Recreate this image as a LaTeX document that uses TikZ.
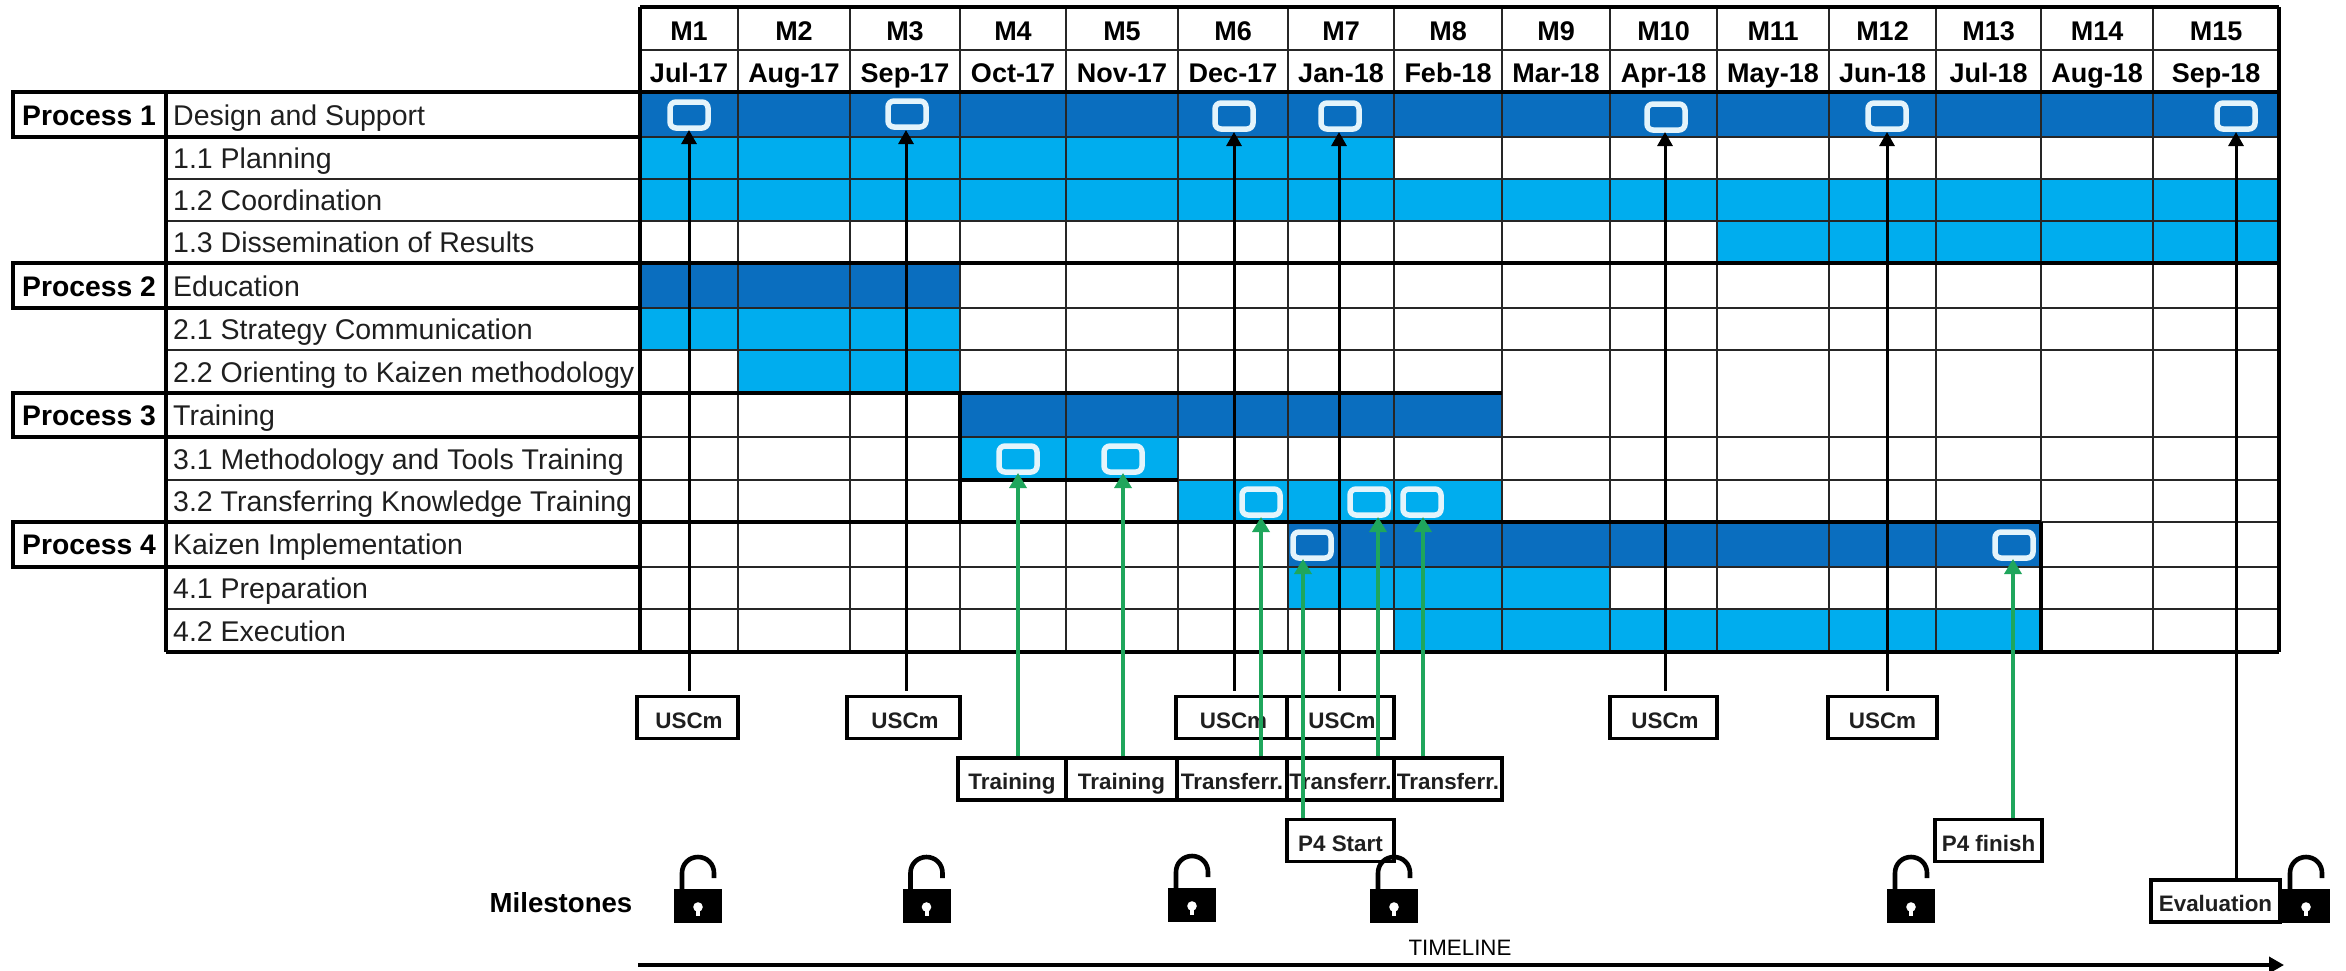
\documentclass[tikz,border=0pt]{standalone}
\usepackage{fontspec}
\setmainfont{Liberation Sans}
\usetikzlibrary{arrows.meta}
\definecolor{bardark}{HTML}{0A6EBF}
\definecolor{barlight}{HTML}{00ADEE}
\definecolor{iconedge}{HTML}{E4F4FB}
\definecolor{greenarrow}{HTML}{1FA65C}
\definecolor{gridc}{HTML}{262626}
\tikzset{
  thingrid/.style={draw=gridc,line width=1.5pt},
  thickgrid/.style={draw=black,line width=3.4pt},
  lbl/.style={anchor=base west,inner sep=0pt,font=\fontsize{28.5}{30}\selectfont,text=black!88},
  proc/.style={anchor=base,inner sep=0pt,font=\bfseries\fontsize{28.3}{30}\selectfont},
  hdr/.style={anchor=base,inner sep=0pt,font=\bfseries\fontsize{27}{30}\selectfont},
  msbox/.style={draw=black,fill=white,line width=3.2pt,inner sep=0pt,minimum height=42pt,text height=21pt,text depth=0pt,font=\bfseries\fontsize{22.4}{24}\selectfont,text=black!88},
  mon/.style={draw=iconedge,line width=5.5pt,rounded corners=6pt,minimum width=38pt,minimum height=26pt,inner sep=0pt},
  blackarrow/.style={draw=black,line width=3pt,-{Triangle[length=14pt,width=15pt]}},
  grnarrow/.style={draw=greenarrow,line width=3.4pt,-{Triangle[length=15pt,width=17pt]}},
  padlock/.pic={
    \fill[black] (-24,0) rectangle (24,34);
    \draw[black,line width=4.6pt] (-16,1) -- (-16,-16) .. controls (-16,-25) and (-9,-32) .. (0,-32) .. controls (9,-32) and (16,-25) .. (16,-16) -- (16,-11);
    \fill[white] (0,18) circle (4.8pt);
    \fill[white] (-2,18) rectangle (2,27);
  }
}
\begin{document}
\begin{tikzpicture}[x=1pt,y=-1pt]
\useasboundingbox (0,0) rectangle (2346,970);
\fill[white] (0,0) rectangle (2346,970);
% bars
\fill[bardark] (640,92) rectangle (2279,137);
\fill[barlight] (640,137) rectangle (1394,179);
\fill[barlight] (640,179) rectangle (2279,221);
\fill[barlight] (1717,221) rectangle (2279,263);
\fill[bardark] (640,263) rectangle (960,308);
\fill[barlight] (640,308) rectangle (960,350);
\fill[barlight] (738,350) rectangle (960,393);
\fill[bardark] (960,393) rectangle (1502,437);
\fill[barlight] (960,437) rectangle (1178,480);
\fill[barlight] (1178,480) rectangle (1502,522);
\fill[bardark] (1288,522) rectangle (2041,567);
\fill[barlight] (1288,567) rectangle (1610,609);
\fill[barlight] (1394,609) rectangle (2041,652);
% thin grid
\foreach \y in {179,221,308,350,437,480,567,609}
  \draw[thingrid] (166,\y) -- (2279,\y);
\draw[thingrid] (640,50) -- (2279,50);
\foreach \x in {738,850,960,1066,1178,1288,1394,1502,1610,1717,1829,1936,2041,2153}
  \draw[thingrid] (\x,7) -- (\x,652);
\foreach \y in {137,522}
  \draw[thingrid] (640,\y) -- (2279,\y);
% thick rules
\draw[thickgrid] (640,7) -- (2279,7);
\draw[thickgrid] (640,7) -- (640,652);
\draw[thickgrid] (2279,7) -- (2279,652);
\draw[thickgrid] (166,652) -- (2279,652);
\draw[thickgrid] (166,92) -- (166,652);
\foreach \ya/\yb in {92/137,263/308,393/437,522/567}
  \draw[thickgrid] (13,\ya) rectangle (640,\yb);
\draw[thickgrid] (640,92) -- (2279,92);
\draw[thickgrid] (640,263) -- (2279,263);
\draw[thickgrid] (640,393) -- (1502,393);
\draw[thickgrid] (640,522) -- (2041,522);
\draw[thickgrid] (960,393) -- (960,522);
\draw[thickgrid] (960,480) -- (1178,480);
\draw[thickgrid] (2041,522) -- (2041,652);
% header
\foreach \a/\b/\m/\d/\n in {640/738/M1/Jul-17/1,738/850/M2/Aug-17/2,850/960/M3/Sep-17/3,960/1066/M4/Oct-17/4,1066/1178/M5/Nov-17/5,1178/1288/M6/Dec-17/6,1288/1394/M7/Jan-18/7,1394/1502/M8/Feb-18/8,1502/1610/M9/Mar-18/9,1610/1717/M10/Apr-18/10,1717/1829/M11/May-18/11,1829/1936/M12/Jun-18/12,1936/2041/M13/Jul-18/13,2041/2153/M14/Aug-18/14,2153/2279/M15/Sep-18/15}{
  \node[hdr] (mon\n) at ({(\a+\b)/2},40) {\m};
  \node[hdr] (date\n) at ({(\a+\b)/2},82) {\d};
}
% process labels
\node[proc] (p1) at (89,125) {Process 1};
\node[proc] (p2) at (89,296) {Process 2};
\node[proc] (p3) at (89,425) {Process 3};
\node[proc] (p4) at (89,554) {Process 4};
% task labels
\node[lbl] (t10) at (173,125) {Design and Support};
\node[lbl] (t11) at (173,168) {1.1 Planning};
\node[lbl] (t12) at (173,210) {1.2 Coordination};
\node[lbl] (t13) at (173,252) {1.3 Dissemination of Results};
\node[lbl] (t20) at (173,296) {Education};
\node[lbl] (t21) at (173,339) {2.1 Strategy Communication};
\node[lbl] (t22) at (173,382) {2.2 Orienting to Kaizen methodology};
\node[lbl] (t30) at (173,425) {Training};
\node[lbl] (t31) at (173,469) {3.1 Methodology and Tools Training};
\node[lbl] (t32) at (173,511) {3.2 Transferring Knowledge Training};
\node[lbl] (t40) at (173,554) {Kaizen Implementation};
\node[lbl] (t41) at (173,598) {4.1 Preparation};
\node[lbl] (t42) at (173,641) {4.2 Execution};
% monitor icons
\node[mon] (i1) at (689,115) {};
\node[mon] (i2) at (907,114) {};
\node[mon] (i3) at (1234,116) {};
\node[mon] (i4) at (1340,116) {};
\node[mon] (i5) at (1666,117) {};
\node[mon] (i6) at (1887,116) {};
\node[mon] (i7) at (2236,116) {};
\node[mon] (j1) at (1018,459) {};
\node[mon] (j2) at (1123,459) {};
\node[mon] (j3) at (1261,502) {};
\node[mon] (j4) at (1369,502) {};
\node[mon] (j5) at (1422,502) {};
\node[mon] (j6) at (1312,545) {};
\node[mon] (j7) at (2014,545) {};
% boxes
\node[msbox,minimum width=101pt] (u1) at (687.5,717.5) {\hspace{3pt}USCm};
\node[msbox,minimum width=113pt] (u2) at (903.5,717.5) {\hspace{3pt}USCm};
\node[msbox,minimum width=111pt] (u3) at (1231.5,717.5) {\hspace{4pt}USCm};
\node[msbox,minimum width=107pt] (u4) at (1340.5,717.5) {\hspace{3pt}USCm};
\node[msbox,minimum width=107pt] (u5) at (1663.5,717.5) {\hspace{3pt}USCm};
\node[msbox,minimum width=109pt] (u6) at (1882.5,717.5) {USCm};
\node[msbox,minimum width=108pt] (b1) at (1012,779) {Training};
\node[msbox,minimum width=111pt] (b2) at (1121.5,779) {Training};
\node[msbox,minimum width=110pt] (b3) at (1232,779) {Transferr.};
\node[msbox,minimum width=107pt] (b4) at (1340.5,779) {Transferr.};
\node[msbox,minimum width=108pt] (b5) at (1448,779) {Transferr.};
\node[msbox,minimum width=107pt] (s1) at (1340.5,840.5) {P4 Start};
\node[msbox,minimum width=107pt] (s2) at (1988.5,840.5) {P4 finish};
\node[msbox,minimum width=129pt] (e1) at (2215.5,901) {Evaluation};
% tips
\foreach \n/\x/\y in {a1/689/130,a2/906/130,a3/1234/132,a4/1339/132,a5/1665/132,a6/1887/132,a7/2236/132,g1/1018/473,g2/1123/473,g3/1261/517,g4/1378/517,g5/1423/517,g6/1303/559,g7/2013/559}
  \coordinate (\n) at (\x,\y);
% black connectors
\foreach \u/\a in {u1/a1,u2/a2,u3/a3,u4/a4,u5/a5,u6/a6}
  \draw[blackarrow] ([yshift=4pt]\u.north -| \a) -- (\a);
\draw[blackarrow] (e1.north -| a7) -- (a7);
% green connectors
\foreach \b/\g in {b1/g1,b2/g2,b3/g3,b4/g4,b5/g5,s1/g6,s2/g7}
  \draw[grnarrow] (\b.north -| \g) -- (\g);
% milestones
\node[anchor=base,inner sep=0pt,font=\bfseries\fontsize{27.6}{30}\selectfont] (ms) at (561,912) {Milestones};
\pic at (698,889) {padlock};
\pic at (926.5,889) {padlock};
\pic at (1192,888) {padlock};
\pic at (1394,889) {padlock};
\pic at (1911,889) {padlock};
\pic at (2306,889) {padlock};
% timeline
\node[anchor=base,inner sep=0pt,font=\fontsize{22.3}{24}\selectfont] (tl) at (1460,955) {TIMELINE};
\coordinate (tl0) at (638,965);
\coordinate (tl1) at (2284,965);
\draw[draw=black,line width=3.6pt,-{Triangle[length=15pt,width=16pt]}] (tl0) -- (tl1);
\end{tikzpicture}
\end{document}
